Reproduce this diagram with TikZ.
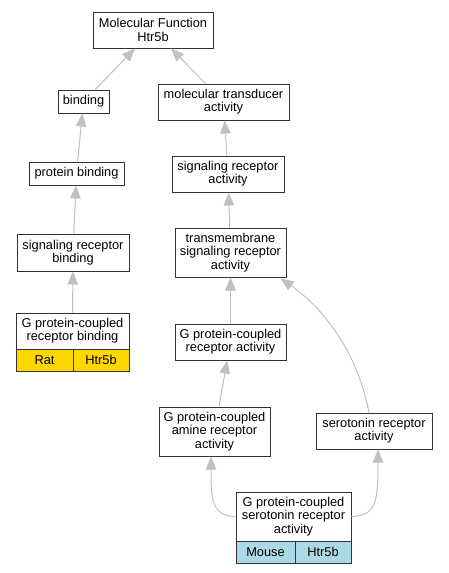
\documentclass[tikz,border=0pt]{standalone}
\usepackage{fontspec}
\setmainfont{Liberation Sans}
\usetikzlibrary{arrows.meta}
\definecolor{edgegray}{HTML}{C0C0C0}
\definecolor{boxline}{HTML}{333333}
\definecolor{ratfill}{HTML}{FFD700}
\definecolor{mousefill}{HTML}{ADD8E6}
\begin{document}
\begin{tikzpicture}[x=1pt,y=1pt,
  box/.style={draw=boxline, line width=1pt, fill=white, inner sep=0pt, align=center,
    font=\fontsize{12.8}{13.3}\selectfont},
  cell/.style={box, minimum height=22pt},
  edge/.style={draw=edgegray, line width=1pt, -{Triangle[length=13pt,width=10.5pt]}, edgegray}]
\useasboundingbox (0,0) rectangle (448,-573);
\node[box, minimum width=120, minimum height=36] (mf) at (153,-30) {Molecular Function\\Htr5b};
\node[box, minimum width=51, minimum height=23] (bind) at (83.5,-101.5) {binding};
\node[box, minimum width=131, minimum height=36] (mtrans) at (223.5,-102) {molecular transducer\\activity};
\node[box, minimum width=95, minimum height=23] (pbind) at (76.5,-173.5) {protein binding};
\node[box, minimum width=112, minimum height=36] (sra) at (228,-174) {signaling receptor\\activity};
\node[box, minimum width=112, minimum height=37] (srb) at (73,-252.5) {signaling receptor\\binding};
\node[box, minimum width=113, minimum height=36] (gpcrb) at (72.5,-331) {G protein-coupled\\receptor binding};
\node[cell, fill=ratfill, minimum width=57] (gpcrbrat) at (44.5,-360) {Rat};
\node[cell, fill=ratfill, minimum width=56] (gpcrbgene) at (101,-360) {Htr5b};
\node[box, minimum width=111, minimum height=49] (tsra) at (230.5,-252.5) {transmembrane\\signaling receptor\\activity};
\node[box, minimum width=111, minimum height=36] (gpcra) at (230.5,-342) {G protein-coupled\\receptor activity};
\node[box, minimum width=111, minimum height=49] (amine) at (214.5,-431.5) {G protein-coupled\\amine receptor\\activity};
\node[box, minimum width=116, minimum height=36] (sera) at (374,-431) {serotonin receptor\\activity};
\node[box, minimum width=115, minimum height=49] (gpcrs) at (293.5,-516.5) {G protein-coupled\\serotonin receptor\\activity};
\node[cell, fill=mousefill, minimum width=59] (gpcrsmouse) at (265.5,-552) {Mouse};
\node[cell, fill=mousefill, minimum width=56] (gpcrsgene) at (323,-552) {Htr5b};
\draw[edge] (bind) -- (mf);
\draw[edge] (mtrans) -- (mf);
\draw[edge] (pbind) -- (bind);
\draw[edge] (sra) -- (mtrans);
\draw[edge] (srb) -- (pbind);
\draw[edge] (tsra) -- (sra);
\draw[edge] (gpcrb) -- (srb);
\draw[edge] (gpcra) -- (tsra);
\draw[edge] (amine) -- (gpcra);
\draw[edge] ([xshift=-5pt]sera.north) .. controls (355,-340) and (312,-300) .. ([xshift=-6pt,yshift=-1pt]tsra.south east);
\draw[edge] (gpcrs.west) .. controls (212,-516) and (211,-500) .. ([xshift=-3.5pt]amine.south);
\draw[edge] (gpcrs.east) .. controls (377,-516) and (378,-500) .. ([xshift=4pt]sera.south);
\end{tikzpicture}
\end{document}
